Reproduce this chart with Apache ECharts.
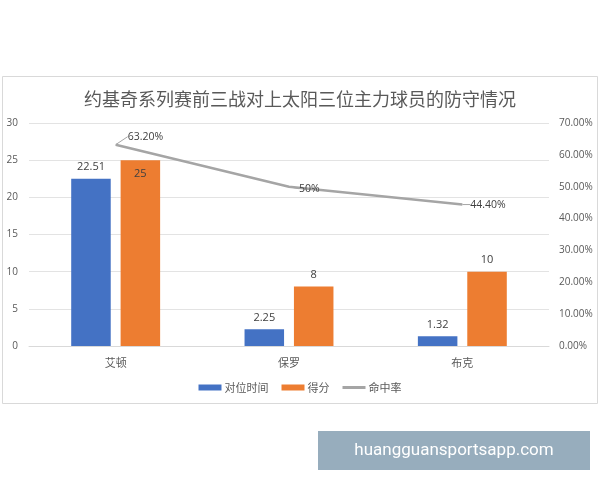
<!DOCTYPE html>
<html>
<head>
<meta charset="utf-8">
<script src="https://cdn.jsdelivr.net/npm/echarts@6/dist/echarts.min.js"></script>
<style>html,body{margin:0;padding:0;background:#fff;}#c{width:600px;height:480px;}</style>
</head>
<body>
<div id="c"></div>
<script>
var titleText = '约基奇系列赛前三战对上太阳三位主力球员的防守情况';
var categories = ['艾顿', '保罗', '布克'];
var matchupTime = [22.51, 2.25, 1.32];
var points = [25, 8, 10];
var fgPct = [63.2, 50, 44.4];
var fgLabels = ['63.20%', '50%', '44.40%'];
var leftTicks = [0, 5, 10, 15, 20, 25, 30];
var rightTicks = ['0.00%', '10.00%', '20.00%', '30.00%', '40.00%', '50.00%', '60.00%', '70.00%'];
var watermark = 'huangguansportsapp.com';

var cjk = '"Noto Sans CJK SC", "Microsoft YaHei", sans-serif';
var num = '"Open Sans", "Liberation Sans", "Noto Sans CJK SC", sans-serif';
var txt = '#595959';

var chart = echarts.init(document.getElementById('c'), null, {renderer: 'canvas'});
chart.setOption({
  animation: false,
  backgroundColor: '#fff',
  title: {
    text: titleText, left: 'center', top: 85,
    textStyle: {fontFamily: cjk, fontSize: 18, fontWeight: 'normal', color: txt}
  },
  graphic: [
    {type: 'rect', z: -1, silent: true, shape: {x: 2.5, y: 76.5, width: 595, height: 327},
     style: {fill: '#fff', stroke: '#d9d9d9', lineWidth: 1}},
    {type: 'rect', silent: true, shape: {x: 318, y: 431, width: 272, height: 39},
     style: {fill: '#97adbd'}},
    {type: 'text', silent: true, x: 454, y: 451,
     style: {text: watermark, fill: '#fff', font: '17px "Roboto", "Liberation Sans", sans-serif', align: 'center', verticalAlign: 'middle'}}
  ],
  legend: {
    bottom: 82, left: 'center', itemWidth: 23, itemHeight: 6, itemGap: 13,
    textStyle: {fontFamily: cjk, fontSize: 11, color: txt, padding: [0, 0, 0, -2]},
    data: [
      {name: '对位时间', icon: 'rect'},
      {name: '得分', icon: 'rect'},
      {name: '命中率', icon: 'path://M0,0 L23,0 L23,3 L0,3 Z', itemStyle: {color: '#a5a5a5'}}
    ]
  },
  grid: {left: 29, right: 51, top: 123, bottom: 134},
  xAxis: {
    type: 'category', data: categories,
    axisLine: {show: true, lineStyle: {color: '#d9d9d9'}},
    axisTick: {show: false},
    axisLabel: {fontFamily: cjk, fontSize: 11, color: txt, margin: 11}
  },
  yAxis: [
    {type: 'value', min: 0, max: 30, interval: 5,
     axisLine: {show: false}, axisTick: {show: false},
     splitLine: {lineStyle: {color: '#e3e3e3'}},
     axisLabel: {fontFamily: num, fontSize: 10, color: txt, margin: 11}},
    {type: 'value', min: 0, max: 70, interval: 10,
     axisLine: {show: false}, axisTick: {show: false},
     splitLine: {show: false},
     axisLabel: {fontFamily: num, fontSize: 10, color: txt, margin: 10,
       formatter: function (v) { return rightTicks[Math.round(v / 10)]; }}}
  ],
  series: [
    {name: '对位时间', type: 'bar', data: matchupTime, barWidth: '22.8%', barGap: '25%',
     itemStyle: {color: '#4472c4'},
     label: {show: true, position: 'top', distance: 6, fontFamily: num, fontSize: 11, color: '#404040'}},
    {name: '得分', type: 'bar', data: points.map(function (v, i) {
        return i === 0 ? {value: v, label: {position: 'insideTop', distance: 8}} : v;
      }), barWidth: '22.8%',
     itemStyle: {color: '#ed7d31'},
     label: {show: true, position: 'top', distance: 6, fontFamily: num, fontSize: 11, color: '#404040'}},
    {name: '命中率', type: 'line', yAxisIndex: 1, data: fgPct, smooth: false,
     symbol: 'circle', symbolSize: 0.01, showSymbol: true, z: 5,
     lineStyle: {color: '#a5a5a5', width: 2.5},
     itemStyle: {color: '#a5a5a5'},
     label: {show: true, position: 'right', distance: 6, fontFamily: num, fontSize: 10.5, color: '#404040',
       formatter: function (p) { return fgLabels[p.dataIndex]; }},
     labelLine: {show: true, lineStyle: {color: '#a5a5a5', width: 1}},
     labelLayout: function (p) {
       if (p.dataIndex === 0) return {dx: 6, dy: -8};
       if (p.dataIndex === 1) return {dx: 4, dy: 2};
       return {dx: 2};
     }}
  ]
});
</script>
</body>
</html>
